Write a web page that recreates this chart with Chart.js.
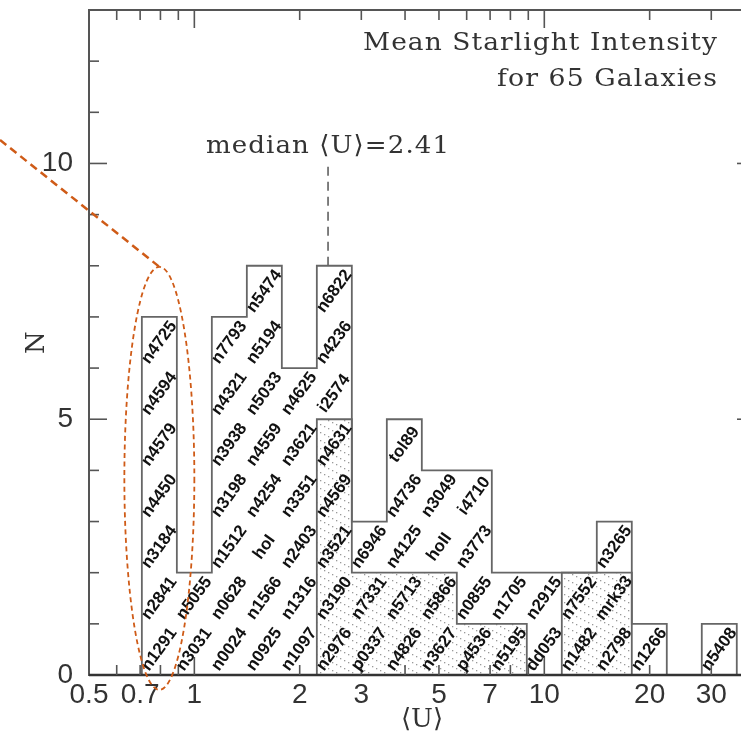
<!DOCTYPE html>
<html>
<head>
<meta charset="utf-8">
<script src="https://cdn.jsdelivr.net/npm/chart.js@4.4.1/dist/chart.umd.min.js"></script>
<style>
  html, body { margin: 0; padding: 0; background: #fff; overflow: hidden; }
  #wrap { width: 760px; height: 736px; }
</style>
</head>
<body>
<div id="wrap"><canvas id="uChart" width="760" height="736"></canvas></div>
<script>
// log10 <U> at the centre of each 0.1 dex bin
const binCenters = [-0.1, 0.0, 0.1, 0.2, 0.3, 0.4, 0.5, 0.6, 0.7, 0.8, 0.9, 1.0, 1.1, 1.2, 1.3, 1.4, 1.5];
const binHalfWidth = 0.05;
const allCounts = [7, 2, 7, 8, 6, 8, 3, 5, 4, 4, 2, 2, 2, 3, 1, 0, 1];
const hatchedCounts = [0, 0, 0, 0, 0, 5, 2, 2, 2, 1, 1, 0, 2, 2, 0, 0, 0];

// galaxies in each bin, bottom to top
const galaxyNames = [
    ['n1291', 'n2841', 'n3184', 'n4450', 'n4579', 'n4594', 'n4725'],
    ['n3031', 'n5055'],
    ['n0024', 'n0628', 'n1512', 'n3198', 'n3938', 'n4321', 'n7793'],
    ['n0925', 'n1566', 'hoI', 'n4254', 'n4559', 'n5033', 'n5194', 'n5474'],
    ['n1097', 'n1316', 'n2403', 'n3351', 'n3621', 'n4625'],
    ['n2976', 'n3190', 'n3521', 'n4569', 'n4631', 'i2574', 'n4236', 'n6822'],
    ['p0337', 'n7331', 'n6946'],
    ['n4826', 'n5713', 'n4125', 'n4736', 'tol89'],
    ['n3627', 'n5866', 'hoII', 'n3049'],
    ['p4536', 'n0855', 'n3773', 'i4710'],
    ['n5195', 'n1705'],
    ['dd053', 'n2915'],
    ['n1482', 'n7552'],
    ['n2798', 'mrk33', 'n3265'],
    ['n1266'],
    [],
    ['n5408']
];

const medianU = 2.41;
const xTickValues = [0.5, 0.6, 0.7, 0.8, 0.9, 1, 2, 3, 4, 5, 6, 7, 8, 9, 10, 20, 30, 40];
const xTickLabels = [0.5, 0.7, 1, 2, 3, 5, 7, 10, 20, 30];
const xMajorTicks = [1, 10];
const yTickLabels = [0, 5, 10];

// step outline: horizontal across each bin, vertical at the edges
function stepPoints(counts) {
    const pts = [];
    binCenters.forEach((c, i) => {
        const lo = Math.pow(10, c - binHalfWidth);
        if (i === 0) pts.push({ x: lo, y: 0 });
        pts.push({ x: lo, y: counts[i] });
    });
    const last = binCenters.length - 1;
    pts.push({ x: Math.pow(10, binCenters[last] + binHalfWidth), y: 0 });
    return pts;
}

function dottedHatch() {
    const tile = document.createElement('canvas');
    tile.width = 16;
    tile.height = 8;
    const t = tile.getContext('2d');
    t.fillStyle = '#9a9a9a';
    for (let i = 0; i < 4; i++) t.fillRect(i * 4, i * 2, 1.3, 1.3);
    return t.createPattern(tile, 'repeat');
}

const serif = '"DejaVu Serif", "Liberation Serif", serif';
const sans = '"Liberation Sans", Arial, sans-serif';

function line(ctx, x1, y1, x2, y2) {
    ctx.beginPath();
    ctx.moveTo(x1, y1);
    ctx.lineTo(x2, y2);
    ctx.stroke();
}

// draw text stretched horizontally to a given width
function wideText(ctx, text, xLeft, y, width) {
    ctx.letterSpacing = '1px';
    const w = ctx.measureText(text).width;
    ctx.save();
    ctx.translate(xLeft, y);
    ctx.scale(width / w, 1);
    ctx.textAlign = 'left';
    ctx.fillText(text, 0, 0);
    ctx.restore();
    ctx.letterSpacing = '0px';
}

const frameTicks = {
    id: 'frameTicks',
    afterDatasetsDraw(chart) {
        const { ctx, chartArea: a, scales: { x, y } } = chart;
        ctx.save();
        ctx.strokeStyle = '#555';
        ctx.lineWidth = 2;
        ctx.strokeRect(a.left, a.top, a.right - a.left, a.bottom - a.top);
        ctx.strokeStyle = '#333';
        ctx.lineWidth = 2.5;
        line(ctx, a.left, a.bottom, a.right, a.bottom);

        ctx.strokeStyle = '#555';
        ctx.lineWidth = 1.6;
        x.ticks.forEach(t => {
            const px = x.getPixelForValue(t.value);
            if (px <= a.left + 1 || px >= a.right - 1) return;
            const len = xMajorTicks.includes(t.value) ? 18 : 10;
            line(ctx, px, a.bottom, px, a.bottom - len);
            line(ctx, px, a.top, px, a.top + len);
        });
        y.ticks.forEach(t => {
            const py = y.getPixelForValue(t.value);
            if (py <= a.top + 1 || py >= a.bottom - 1) return;
            const len = yTickLabels.includes(t.value) ? 18 : 10;
            line(ctx, a.left, py, a.left + len, py);
            line(ctx, a.right, py, a.right - len, py);
        });
        ctx.restore();
    }
};

const galaxyLabels = {
    id: 'galaxyLabels',
    afterDatasetsDraw(chart) {
        const { ctx, scales: { x, y } } = chart;
        ctx.save();
        ctx.font = 'bold 17px ' + sans;
        ctx.fillStyle = '#111';
        ctx.textAlign = 'center';
        ctx.textBaseline = 'middle';
        galaxyNames.forEach((names, i) => {
            const px = x.getPixelForValue(Math.pow(10, binCenters[i]));
            names.forEach((name, k) => {
                const py = y.getPixelForValue(k + 0.5);
                ctx.save();
                ctx.translate(px, py);
                ctx.rotate(-54 * Math.PI / 180);
                ctx.fillText(name, 0, 0);
                ctx.restore();
            });
        });
        ctx.restore();
    }
};

const notes = {
    id: 'notes',
    afterDraw(chart) {
        const { ctx, scales: { x, y } } = chart;
        ctx.save();
        ctx.fillStyle = '#333';
        ctx.textBaseline = 'alphabetic';
        ctx.font = '25px ' + serif;
        wideText(ctx, 'Mean Starlight Intensity', 363, 50, 355);
        wideText(ctx, 'for 65 Galaxies', 497, 86, 221);

        const mx = x.getPixelForValue(medianU);
        wideText(ctx, 'median \u27E8U\u27E9=' + medianU, mx - 122, 153, 244);

        // highlight around the lowest bin
        ctx.strokeStyle = '#cf5b17';
        const cx = x.getPixelForValue(Math.pow(10, -0.1));
        const rx = x.getPixelForValue(1.0) - cx;
        const top = y.getPixelForValue(7.98);
        const bot = y.getPixelForValue(-0.29);
        ctx.lineWidth = 1.8;
        ctx.setLineDash([5, 3.5]);
        ctx.beginPath();
        ctx.ellipse(cx, (top + bot) / 2, rx, (bot - top) / 2, 0, 0, Math.PI * 2);
        ctx.stroke();
        ctx.lineWidth = 2.5;
        ctx.setLineDash([8, 5]);
        line(ctx, 0, y.getPixelForValue(10.46), cx, top);
        ctx.restore();
    }
};

new Chart(document.getElementById('uChart'), {
    type: 'line',
    data: {
        datasets: [{
            label: 'all',
            data: stepPoints(allCounts),
            stepped: true,
            borderColor: '#666',
            borderWidth: 1.8,
            pointRadius: 0,
            fill: false
        }, {
            label: 'hatched',
            data: stepPoints(hatchedCounts),
            stepped: true,
            borderColor: '#666',
            borderWidth: 1.8,
            pointRadius: 0,
            backgroundColor: dottedHatch(),
            fill: 'origin'
        }, {
            label: 'median',
            data: [{ x: medianU, y: 8 }, { x: medianU, y: 10 }],
            borderColor: '#555',
            borderWidth: 1.5,
            borderDash: [9, 6],
            pointRadius: 0,
            fill: false
        }]
    },
    options: {
        responsive: false,
        animation: false,
        layout: { padding: { left: 0, top: 10, right: 5, bottom: 0 } },
        plugins: {
            legend: { display: false },
            tooltip: { enabled: false }
        },
        scales: {
            x: {
                type: 'logarithmic',
                min: 0.5,
                max: 40,
                grid: { display: false, drawTicks: false },
                border: { display: false },
                afterBuildTicks: (scale) => {
                    scale.ticks = xTickValues.map(v => ({ value: v }));
                },
                afterFit: (scale) => {
                    scale.height = 61;
                    scale.paddingLeft = 0;
                    scale.paddingRight = 0;
                },
                ticks: {
                    autoSkip: false,
                    maxRotation: 0,
                    minRotation: 0,
                    padding: 3,
                    color: '#333',
                    font: { family: sans, size: 28 },
                    callback: (v) => xTickLabels.includes(v) ? String(v) : ''
                },
                title: {
                    display: true,
                    text: '\u27E8U\u27E9',
                    color: '#333',
                    font: { family: serif, size: 26 },
                    padding: { top: 4, bottom: 0 }
                }
            },
            y: {
                type: 'linear',
                min: 0,
                max: 13,
                grid: { display: false, drawTicks: false },
                border: { display: false },
                afterFit: (scale) => {
                    scale.width = 89;
                    scale.paddingTop = 0;
                    scale.paddingBottom = 0;
                },
                ticks: {
                    stepSize: 1,
                    autoSkip: false,
                    padding: 16,
                    color: '#333',
                    font: { family: sans, size: 28 },
                    callback: (v) => yTickLabels.includes(v) ? String(v) : ''
                },
                title: {
                    display: true,
                    text: 'N',
                    color: '#333',
                    font: { family: serif, size: 26 },
                    padding: { top: 22, bottom: 0 }
                }
            }
        }
    },
    plugins: [frameTicks, galaxyLabels, notes]
});
</script>
</body>
</html>
